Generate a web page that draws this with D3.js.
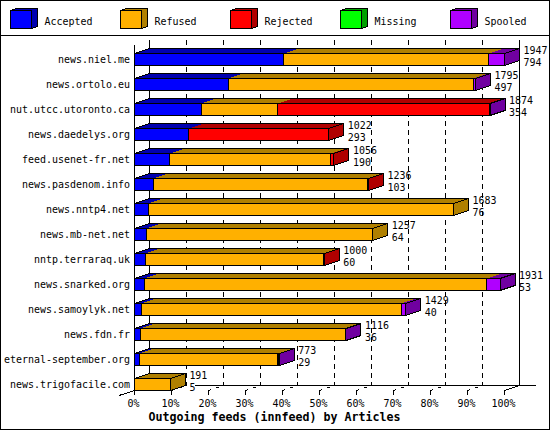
<!DOCTYPE html>
<html><head><meta charset="utf-8">
<style>html,body{margin:0;padding:0;background:#fff}svg{display:block}</style>
<script src="https://cdnjs.cloudflare.com/ajax/libs/d3/7.8.5/d3.min.js"></script>
</head><body><svg id="c" width="550" height="430"></svg>
<script>
const hosts=["news.niel.me","news.ortolo.eu","nut.utcc.utoronto.ca","news.daedelys.org","feed.usenet-fr.net","news.pasdenom.info","news.nntp4.net","news.mb-net.net","nntp.terraraq.uk","news.snarked.org","news.samoylyk.net","news.fdn.fr","eternal-september.org","news.trigofacile.com"];
const seriesNames=["Accepted","Refused","Rejected","Missing","Spooled"];
const accepted=[40.4,25.3,18.0,14.7,9.5,5.05,3.7,3.2,2.9,2.6,1.8,1.5,1.3,0.1];
const refused=[55.4,66.3,20.7,0,43.6,58.05,82.5,61.2,48.1,92.6,70.3,55.5,37.4,9.6];
const rejected=[0,0,57.2,37.8,0.8,0.15,0,0,0.3,0,0,0,0.3,0];
const missing=[0,0,0,0,0,0,0,0,0,0,0,0,0,0];
const spooled=[4.2,0.55,0.2,0,0,0,0,0,0,3.6,1.2,0.15,0.15,0];
const totalLabels=[1947,1795,1874,1022,1056,1236,1683,1257,1000,1931,1429,1116,773,191];
const acceptedLabels=[794,497,354,293,190,103,76,64,60,53,40,36,29,5];
const tickValues=[0,10,20,30,40,50,60,70,80,90,100];
const frontColors=["#0000ff","#ffb000","#ff0000","#00ff00","#b000ff"];
const darkColors=["#0000b0","#b08000","#b00000","#00a000","#7000a0"];
const titleText="Outgoing feeds (innfeed) by Articles";
const MONO="'DejaVu Sans Mono',monospace";

const svg=d3.select("#c").attr("shape-rendering","crispEdges");
const dx=15,dy=5;
const x=d3.scaleLinear().domain([0,100]).range([134.5,504.5]);
const y=d3.scaleBand().domain(hosts).range([40.5,390.5]);
const barH=12;
const seriesData=[accepted,refused,rejected,missing,spooled];

function mono(sel,size,w){
  return sel.attr("font-family",MONO).attr("font-size",size).attr("fill","#000")
    .attr("textLength",function(){return this.textContent.length*w;}).attr("lengthAdjust","spacingAndGlyphs");
}

svg.append("rect").attr("x",.5).attr("y",.5).attr("width",549).attr("height",429).attr("fill","#fff").attr("stroke","#000");
svg.append("line").attr("x1",0).attr("x2",550).attr("y1",35.5).attr("y2",35.5).attr("stroke","#000");

// legend
const legX=d3.scalePoint().domain(seriesNames).range([10,450]);
const leg=svg.append("g").selectAll("g").data(seriesNames).join("g").attr("transform",d=>`translate(${legX(d)+.5},10.5)`);
leg.append("path").attr("d","M0,0L6,-2L27,-2L27,16L21,18L21,0L0,0").attr("fill",(d,i)=>darkColors[i]).attr("stroke","#000");
leg.append("rect").attr("width",21).attr("height",18).attr("fill",(d,i)=>frontColors[i]).attr("stroke","#000");
leg.append("text").text(d=>d).attr("x",34).attr("y",14).call(mono,11,6);

// back plane and floor
const g=svg.append("g");
const floorY=y.range()[1];
const inner=tickValues.filter(t=>t>0&&t<100);
g.append("line").attr("x1",x(0)).attr("x2",x(0)).attr("y1",45).attr("y2",floorY).attr("stroke","#000");
g.append("line").attr("x1",x(0)+dx).attr("x2",x(0)+dx).attr("y1",40).attr("y2",floorY-dy).attr("stroke","#000");
g.append("line").attr("x1",x(100)+dx).attr("x2",x(100)+dx).attr("y1",40).attr("y2",floorY-dy).attr("stroke","#000");
g.append("line").attr("x1",195).attr("x2",535.5).attr("y1",floorY-dy).attr("y2",floorY-dy).attr("stroke","#000");
g.append("line").attr("x1",119).attr("x2",x(0)).attr("y1",floorY+5).attr("y2",floorY).attr("stroke","#000");
g.append("line").attr("x1",x(100)).attr("x2",x(100)+dx).attr("y1",floorY).attr("y2",floorY-dy).attr("stroke","#000");
g.selectAll(".grid").data(inner).join("line").attr("class","grid")
  .attr("x1",d=>x(d)+dx).attr("x2",d=>x(d)+dx).attr("y1",40).attr("y2",floorY-dy).attr("stroke","#000").attr("stroke-dasharray","5,4");
g.selectAll(".floor").data(inner).join("line").attr("class","floor")
  .attr("x1",d=>x(d)).attr("x2",d=>x(d)+dx).attr("y1",floorY).attr("y2",floorY-dy).attr("stroke","#000").attr("stroke-dasharray","3,5,3,5");
g.selectAll(".stub").data(tickValues).join("line").attr("class","stub")
  .attr("x1",d=>x(d)).attr("x2",d=>x(d)).attr("y1",floorY).attr("y2",floorY+4).attr("stroke","#000");

// bars
hosts.forEach((h,r)=>{
  const bottom=y(h)+y.bandwidth(), top=bottom-barH;
  let cum=0,last=0;
  const row=svg.append("g");
  seriesData.forEach((s,i)=>{
    const v=s[r]; if(!v) return;
    const x0=x(cum),x1=x(cum+v);
    row.append("path").attr("d",`M${x0},${top}L${x0+dx},${top-dy}L${x1+dx},${top-dy}L${x1},${top}Z`).attr("fill",darkColors[i]);
    cum+=v; last=i;
  });
  const end=x(cum);
  row.append("path").attr("d",`M${end},${top}L${end+dx},${top-dy}L${end+dx},${bottom-dy}L${end},${bottom}Z`).attr("fill",darkColors[last]).attr("stroke","#000");
  row.append("path").attr("d",`M${x(0)},${top}L${x(0)+dx},${top-dy}L${end+dx},${top-dy}`).attr("fill","none").attr("stroke","#000");
  cum=0;
  seriesData.forEach((s,i)=>{
    const v=s[r]; if(!v) return;
    const x0=x(cum),x1=x(cum+v);
    row.append("rect").attr("x",x0).attr("y",top).attr("width",x1-x0).attr("height",barH).attr("fill",frontColors[i]).attr("stroke","#000");
    cum+=v;
  });
  // two stacked value labels, narrowed to the 6px character cell
  const lx=end+dx+4;
  row.append("text").text(totalLabels[r]).attr("x",lx).attr("y",top).call(mono,10.4,6);
  row.append("text").text(acceptedLabels[r]).attr("x",lx).attr("y",top+12.4).call(mono,10.4,6);
});

// host labels
svg.append("g").selectAll("text").data(hosts).join("text").text(d=>d)
  .attr("x",130).attr("y",d=>y(d)+y.bandwidth()-2.5).attr("text-anchor","end").call(mono,11,6);
// x ticks
svg.append("g").selectAll("text").data(tickValues).join("text").text(d=>d+"%")
  .attr("x",d=>x(d)-1).attr("y",407).attr("text-anchor","middle").call(mono,11,6);
svg.append("text").text(titleText).attr("x",274.5).attr("y",421).attr("text-anchor","middle")
  .attr("font-weight","bold").call(mono,11.6,7);
</script></body></html>
